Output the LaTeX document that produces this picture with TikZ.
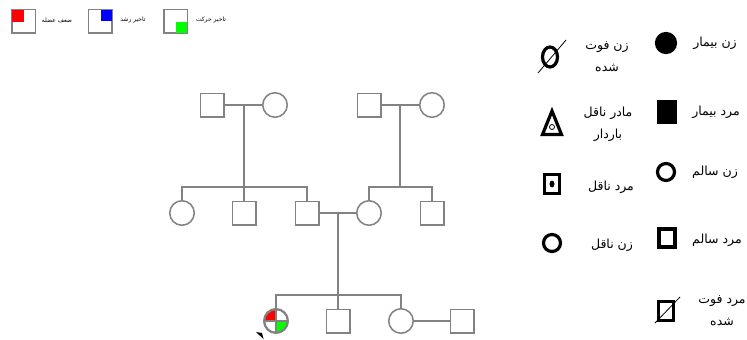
\documentclass[tikz,border=0pt]{standalone}
\usepackage{fontspec}
\usepackage{xcolor}
\usetikzlibrary{shapes.geometric}
\newfontfamily\fa[Script=Arabic]{DejaVu Sans}
\TeXXeTstate=1
\definecolor{pedgray}{RGB}{130,130,130}

\tikzset{
    edge/.style={pedgray, line width=1.5pt},
    male/.style={draw=pedgray, line width=1.5pt, fill=white, minimum size=23.5pt, inner sep=0pt},
    female/.style={circle, draw=pedgray, line width=1.5pt, fill=white, minimum size=24.5pt, inner sep=0pt},
    legbox/.style={draw=pedgray, line width=1.5pt, minimum size=23.5pt, inner sep=0pt},
    key/.style={draw=black, line width=3.2pt, inner sep=0pt},
    keytext/.style={font=\fa\fontsize{12.5}{22}\selectfont, align=center},
    tinytext/.style={font=\fa\fontsize{6}{7}\selectfont}
}

\begin{document}
\begin{tikzpicture}[x=1pt, y=-1pt]
            \useasboundingbox[fill=white] (0,0) rectangle (747,340);
            % symptom key, top left
            \node[legbox] (kmuscle) at (23.5,21) {};
            \node[legbox] (kgrowth) at (100,21) {};
            \node[legbox] (kmotor) at (175.5,21) {};
            \fill[red] ([shift={(1,1)}]kmuscle.north west) rectangle ++(12,12);
            \fill[blue] ([shift={(-1,1)}]kgrowth.north east) rectangle ++(-11,11);
            \fill[green] ([shift={(-1,-1)}]kmotor.south east) rectangle ++(-11,-11);
            \node[tinytext] (lmuscle) at (57,20) {\beginR ضعف عضله\endR};
            \node[tinytext] (lgrowth) at (133,20) {\beginR تاخیر رشد\endR};
            \node[tinytext] (lmotor) at (211,20) {\beginR تاخیر حرکت\endR};

            % generation I
            \node[male] (gpa1) at (212,105) {};
            \node[female] (gma1) at (275,105) {};
            \node[male] (gpa2) at (369,105) {};
            \node[female] (gma2) at (432,105) {};
            % generation II
            \node[female] (aunt) at (182,213) {};
            \node[male] (uncle1) at (244,213) {};
            \node[male] (father) at (307,213) {};
            \node[female] (mother) at (369,213) {};
            \node[male] (uncle2) at (432,213) {};
            % generation III
            \node[female] (proband) at (276,321) {};
            \node[male] (brother) at (338,321) {};
            \node[female] (sister) at (401,321) {};
            \node[male] (inlaw) at (462,321) {};

            \coordinate (sib1) at (244,187);
            \coordinate (sib2) at (400,187);
            \coordinate (sib3) at (338,295);

            \draw[edge] (gpa1) -- (gma1);
            \draw[edge] (gpa1.east -| sib1) -- (sib1);
            \draw[edge] (aunt.north) |- (father.north |- sib1) -- (father.north);
            \draw[edge] (uncle1.north) -- (uncle1.north |- sib1);

            \draw[edge] (gpa2) -- (gma2);
            \draw[edge] (gpa2.east -| sib2) -- (sib2);
            \draw[edge] (mother.north) |- (uncle2.north |- sib2) -- (uncle2.north);

            \draw[edge] (father) -- (mother);
            \draw[edge] (father.east -| sib3) -- (sib3);
            \draw[edge] (proband.north) |- (sister.north |- sib3) -- (sister.north);
            \draw[edge] (brother.north) -- (brother.north |- sib3);
            \draw[edge] (sister) -- (inlaw);

            \begin{scope}
                \clip (proband.center) circle (12pt);
                \fill[red] (proband.center) rectangle ++(-13,-13);
                \fill[green] (proband.center) rectangle ++(13,13);
            \end{scope}
            \draw[edge] (proband.north) -- (proband.south) (proband.west) -- (proband.east);
            \draw[edge] (proband.center) circle (11.5pt);
            \fill[black] (256,332) -- (262,333) -- (263.5,339) -- cycle;

            % symbol key, right
            \node[key, circle, fill=black, minimum size=19pt] (ksickf) at (666,43) {};
            \node[key, fill=black, minimum width=17pt, minimum height=20pt] (ksickm) at (667,112) {};
            \node[key, circle, minimum size=17pt] (kwellf) at (666,172) {};
            \node[key, minimum width=16pt, minimum height=18pt] (kwellm) at (667,238) {};
            \node[key, minimum width=15pt, minimum height=19pt] (kdeadm) at (666,311) {};
            \draw[black, line width=0.8pt] ([shift={(-11,12)}]kdeadm.center) -- ([shift={(14,-14)}]kdeadm.center);

            \node[key, ellipse, minimum width=15pt, minimum height=20pt] (kdeadf) at (550,57) {};
            \draw[black, line width=0.8pt] ([shift={(-12,16)}]kdeadf.center) -- ([shift={(16,-17)}]kdeadf.center);
            \draw[black, line width=3.2pt, line join=miter] (552,111) -- (561.5,134.5) -- (542.5,134.5) -- cycle;
            \draw[black, line width=0.8pt] (552,127) circle (2.5pt);
            \node[key, minimum width=15pt, minimum height=19pt] (kcarm) at (552,184) {};
            \fill[black] (kcarm.center) ellipse (2.5pt and 3.5pt);
            \node[key, circle, minimum size=17pt] (kcarf) at (552,243) {};

            \node[keytext] (tsickf) at (715,43) {\beginR زن بیمار\endR};
            \node[keytext] (tsickm) at (716,112) {\beginR مرد بیمار\endR};
            \node[keytext] (twellf) at (715,172) {\beginR زن سالم\endR};
            \node[keytext] (twellm) at (717,240) {\beginR مرد سالم\endR};
            \node[keytext] (tdeadm) at (722,311) {\beginR مرد فوت\endR\\\beginR شده\endR};
            \node[keytext] (tdeadf) at (607,57) {\beginR زن فوت\endR\\\beginR شده\endR};
            \node[keytext] (tpreg) at (608,124) {\beginR مادر ناقل\endR\\\beginR باردار\endR};
            \node[keytext] (tcarm) at (611,187) {\beginR مرد ناقل\endR};
            \node[keytext] (tcarf) at (612,245) {\beginR زن ناقل\endR};
        \end{tikzpicture}
\end{document}
